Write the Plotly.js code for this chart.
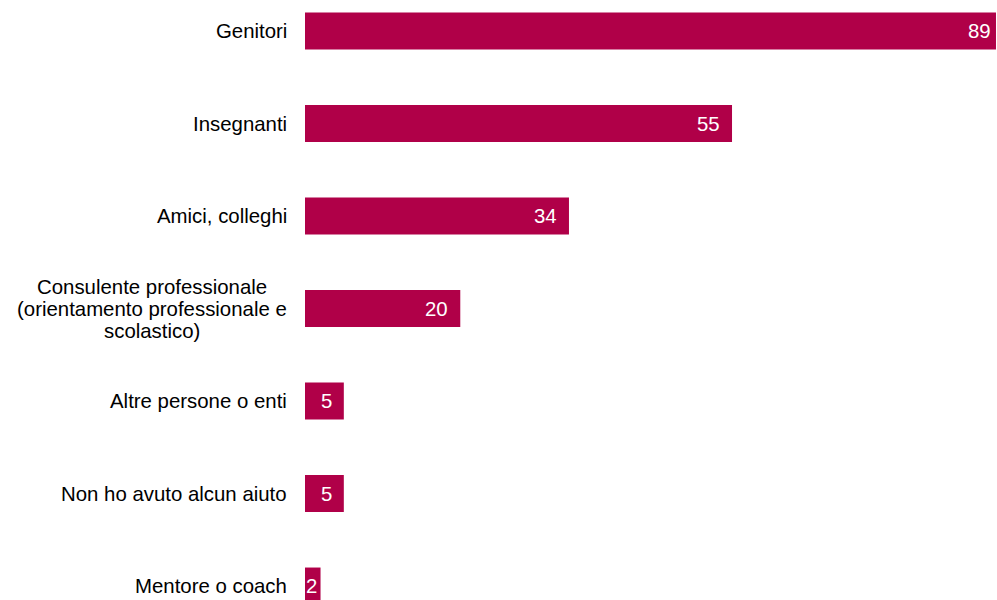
<!DOCTYPE html>
<html>
<head>
<meta charset="utf-8">
<script src="https://cdn.plot.ly/plotly-3.0.1.min.js"></script>
<style>html,body{margin:0;padding:0;background:#fff;}#chart{width:997px;height:600px;}</style>
</head>
<body>
<div id="chart"></div>
<script>
// Bottom-to-top order
var categories = ["Mentore o coach", "Non ho avuto alcun aiuto", "Altre persone o enti",
  "Consulente professionale<br>(orientamento professionale e<br>scolastico)",
  "Amici, colleghi", "Insegnanti", "Genitori"];
var values = [2, 5, 5, 20, 34, 55, 89];
var valueLabels = ["2", "5", "5", "20", "34", "55", "89"];

var FONT = "Liberation Sans, Arial, sans-serif";
var FSIZE = 20.4;
var XMAX = 89.13;
var PLOT_W = 692;

var cvs = document.createElement("canvas");
var ctx = cvs.getContext("2d");
ctx.font = FSIZE + "px 'Liberation Sans', Arial, sans-serif";
function tw(s){ return ctx.measureText(s).width; }

var trace = {
  type: "bar",
  orientation: "h",
  x: values,
  y: categories.map(function(c, i){ return i; }),
  textposition: "none",
  marker: {color: "#B00048"},
  width: 0.4,
  hoverinfo: "none"
};

var annotations = [];
var LABEL_RIGHT = -18; // px from plot left
categories.forEach(function(c, i){
  var lines = c.split("<br>");
  var n = lines.length;
  var maxW = Math.max.apply(null, lines.map(tw));
  lines.forEach(function(line, k){
    annotations.push({
      xref: "paper", yref: "y", x: 0, y: i,
      xanchor: "center", yanchor: "middle",
      xshift: LABEL_RIGHT - maxW / 2,
      yshift: ((n - 1) / 2 - k) * 22,
      text: line, showarrow: false, align: "center",
      font: {family: FONT, size: FSIZE, color: "#000000"}
    });
  });
});

values.forEach(function(v, i){
  var px = v / XMAX * PLOT_W;           // bar end in px from plot left
  var w = tw(valueLabels[i]);
  var right = px - 10;
  if (px > PLOT_W - 12) right = PLOT_W - 4;
  right = Math.max(right, w + 3);
  annotations.push({
    xref: "x", yref: "y", x: v, y: i,
    xanchor: "right", yanchor: "middle",
    xshift: right - px, yshift: 0,
    text: valueLabels[i], showarrow: false,
    font: {family: FONT, size: FSIZE, color: "#ffffff"}
  });
});

var layout = {
  width: 997, height: 600,
  margin: {l: 305, r: 0, t: 0, b: 0, pad: 0},
  paper_bgcolor: "#ffffff", plot_bgcolor: "#ffffff",
  showlegend: false,
  xaxis: {range: [0, XMAX], visible: false, fixedrange: true},
  yaxis: {range: [-0.151, 6.335], visible: false, fixedrange: true},
  annotations: annotations
};

Plotly.newPlot("chart", [trace], layout, {displayModeBar: false, staticPlot: true});
</script>
</body>
</html>
